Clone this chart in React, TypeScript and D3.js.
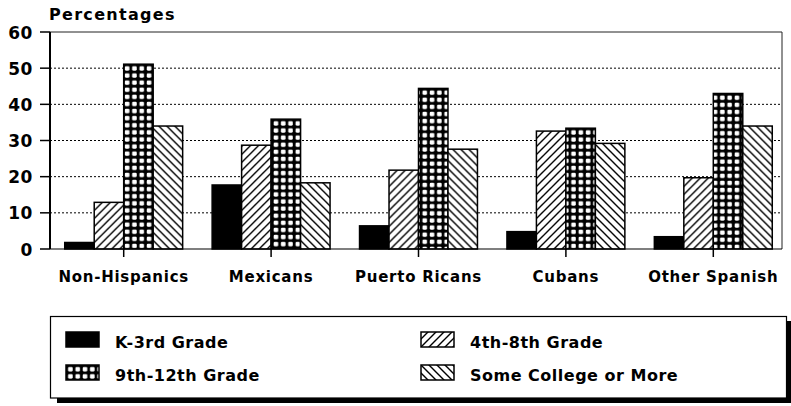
import React from "react";
import * as d3 from "d3";

const categories = ["Non-Hispanics", "Mexicans", "Puerto Ricans", "Cubans", "Other Spanish"];
const seriesNames = ["K-3rd Grade", "4th-8th Grade", "9th-12th Grade", "Some College or More"];
const k3 = [1.8, 17.7, 6.4, 4.8, 3.4];
const g48 = [12.9, 28.7, 21.8, 32.6, 19.7];
const g912 = [51.1, 35.9, 44.4, 33.4, 43.0];
const college = [34.0, 18.3, 27.6, 29.2, 34.0];
const yTicks = [0, 10, 20, 30, 40, 50, 60];
const gridTicks = [10, 20, 30, 40, 50];

const seriesValues = [k3, g48, g912, college];
const fills = ["#000", "url(#hatchF)", "GRID", "url(#hatchB)"];

const W = 791;
const H = 406;
const left = 50;
const top = 32;
const right = 782;
const bottom = 249;
const FONT = "'DejaVu Sans', Verdana, sans-serif";

export default function App() {
  const y = d3.scaleLinear().domain([0, 60]).range([bottom, top]);
  const x0 = d3.scaleBand<string>().domain(categories).range([50, 787]).paddingInner(0.2).paddingOuter(0.1);
  const x1 = d3.scaleBand<string>().domain(seriesNames).range([0, x0.bandwidth()]).padding(0);

  const legendItems = [
    { name: seriesNames[0], fill: fills[0], col: 0, row: 0 },
    { name: seriesNames[1], fill: fills[1], col: 1, row: 0 },
    { name: seriesNames[2], fill: fills[2], col: 0, row: 1 },
    { name: seriesNames[3], fill: fills[3], col: 1, row: 1 },
  ];
  const legX = [66, 421];
  const legY = [332, 365];

  const gridPatternId = (k: string) => `grid-${k}`;

  const gridPatterns: { id: string; x: number; y: number }[] = [];
  categories.forEach((c, i) => {
    const bx = (x0(c) as number) + (x1(seriesNames[2]) as number);
    gridPatterns.push({ id: gridPatternId(String(i)), x: bx, y: y(g912[i]) });
  });
  gridPatterns.push({ id: gridPatternId("leg"), x: legX[0], y: legY[1] });

  return (
    <svg width={W} height={H} style={{ position: "absolute", left: 0, top: 0, background: "#fff" }}>
      <defs>
        <pattern id="hatchF" patternUnits="userSpaceOnUse" width={8} height={8}>
          <rect width={8} height={8} fill="#fff" />
          <path d="M0,8 L8,0 M-2,2 L2,-2 M6,10 L10,6" stroke="#000" strokeWidth={1.4} />
        </pattern>
        <pattern id="hatchB" patternUnits="userSpaceOnUse" width={8} height={8}>
          <rect width={8} height={8} fill="#fff" />
          <path d="M0,0 L8,8 M-2,6 L2,10 M6,-2 L10,2" stroke="#000" strokeWidth={1.4} />
        </pattern>
        {gridPatterns.map((p) => (
          <pattern key={p.id} id={p.id} patternUnits="userSpaceOnUse" x={p.x + 0.5} y={p.y + 0.5} width={7.3} height={7.1}>
            <rect width={7.3} height={7.1} fill="#000" />
            <rect x={1.6} y={1.5} width={4.6} height={4.4} rx={1.2} fill="#fff" />
          </pattern>
        ))}
      </defs>

      {/* title */}
      <text x={49} y={19.5} fontFamily={FONT} fontWeight="bold" fontSize={16} letterSpacing={1.3} fill="#000">
        Percentages
      </text>

      {/* gridlines */}
      {gridTicks.map((t) => (
        <line key={t} x1={left} x2={right} y1={y(t)} y2={y(t)} stroke="#000" strokeWidth={1} strokeDasharray="2,2" />
      ))}

      {/* frame */}
      <line x1={left} x2={right} y1={top} y2={top} stroke="#222" strokeWidth={1} />
      <line x1={right} x2={right} y1={top} y2={bottom} stroke="#222" strokeWidth={1} />

      {/* bars */}
      {categories.map((c, i) => (
        <g key={c} transform={`translate(${x0(c)},0)`}>
          {seriesNames.map((s, j) => {
            const v = seriesValues[j][i];
            const f = fills[j] === "GRID" ? `url(#${gridPatternId(String(i))})` : fills[j];
            return (
              <rect
                key={s}
                x={x1(s) as number}
                y={y(v)}
                width={x1.bandwidth()}
                height={bottom - y(v)}
                fill={f}
                stroke="#000"
                strokeWidth={1.5}
              />
            );
          })}
        </g>
      ))}

      {/* axes */}
      <line x1={left} x2={right} y1={bottom} y2={bottom} stroke="#000" strokeWidth={1.2} />
      <line x1={left} x2={left} y1={top} y2={bottom} stroke="#000" strokeWidth={2} />
      {yTicks.map((t) => (
        <g key={t}>
          <line x1={40} x2={left} y1={y(t)} y2={y(t)} stroke="#000" strokeWidth={1.5} />
          <text
            x={33}
            y={y(t) + 6.5}
            textAnchor="end"
            fontFamily={FONT}
            fontWeight="bold"
            fontSize={17}
            letterSpacing={0.6}
            fill="#000"
          >
            {t}
          </text>
        </g>
      ))}
      {categories.map((c) => {
        const cx = (x0(c) as number) + x0.bandwidth() / 2;
        return (
          <g key={c}>
            <line x1={cx} x2={cx} y1={bottom} y2={bottom + 8} stroke="#000" strokeWidth={1.5} />
            <text x={cx} y={282} textAnchor="middle" fontFamily={FONT} fontWeight="bold" fontSize={15} letterSpacing={0.75} fill="#000">
              {c}
            </text>
          </g>
        );
      })}

      {/* legend */}
      <rect x={57} y={321} width={736} height={82} fill="#000" />
      <rect x={50.5} y={316.5} width={736} height={81.5} fill="#fff" stroke="#000" strokeWidth={1.2} />
      {legendItems.map((it) => {
        const f = it.fill === "GRID" ? `url(#${gridPatternId("leg")})` : it.fill;
        const lx = legX[it.col];
        const ly = legY[it.row];
        return (
          <g key={it.name}>
            <rect x={lx} y={ly} width={33} height={15} fill={f} stroke="#000" strokeWidth={1.5} />
            <text x={lx + 49} y={ly + 16} fontFamily={FONT} fontWeight="bold" fontSize={16} letterSpacing={0.5} fill="#000">
              {it.name}
            </text>
          </g>
        );
      })}
    </svg>
  );
}
